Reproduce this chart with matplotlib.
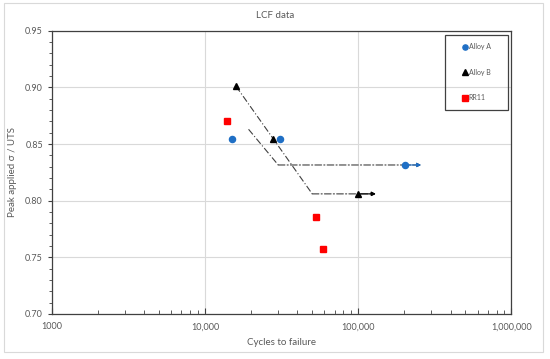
import matplotlib.pyplot as plt
from matplotlib.ticker import FixedLocator, FuncFormatter, LogLocator, MultipleLocator
from matplotlib.patches import Rectangle

plt.rcParams['font.family'] = ['Lato', 'DejaVu Sans']

# data
alloy_a_n = [14900, 31000, 202000]
alloy_a_s = [0.854, 0.854, 0.8315]
alloy_b_n = [15900, 27900, 100000]
alloy_b_s = [0.901, 0.854, 0.806]
rr11_n = [13800, 52800, 59000]
rr11_s = [0.870, 0.786, 0.757]

# trend lines (dash-dot) with run-out arrows
trend_a_n = [19200, 30000, 257000]
trend_a_s = [0.863, 0.8315, 0.8315]
trend_b_n = [15900, 50000, 130000]
trend_b_s = [0.901, 0.806, 0.806]

grey = '#595959'
blue = '#1F6FC5'
dashdot = (0, (6, 2, 1, 2))

fig = plt.figure(figsize=(5.5, 3.59), dpi=100)
# light outer border like the chart area in the original
fig.patches.append(Rectangle((4/550, 7/359), 539/550, 349/359, transform=fig.transFigure,
                             fill=False, edgecolor='#d9d9d9', linewidth=0.8))
ax = fig.add_axes([52/550, 45/359, 459.5/550, 283.3/359])

ax.plot(trend_a_n[:-1], trend_a_s[:-1], color='#404040', lw=0.8, ls=dashdot)
ax.plot(trend_b_n[:-1], trend_b_s[:-1], color='#404040', lw=0.8, ls=dashdot)
arrow_kw = dict(lw=0.8, mutation_scale=6, shrinkA=0, shrinkB=0, arrowstyle='-|>')
ax.annotate('', xy=(trend_a_n[-1], trend_a_s[-1]), xytext=(trend_a_n[-2], trend_a_s[-2]),
            arrowprops=dict(color='#404040', ls=dashdot, **arrow_kw))
ax.annotate('', xy=(trend_a_n[-1], trend_a_s[-1]), xytext=(alloy_a_n[-1], alloy_a_s[-1]),
            arrowprops=dict(color=blue, **arrow_kw))
ax.annotate('', xy=(trend_b_n[-1], trend_b_s[-1]), xytext=(trend_b_n[-2], trend_b_s[-2]),
            arrowprops=dict(color='#404040', ls=dashdot, **arrow_kw))
ax.annotate('', xy=(trend_b_n[-1], trend_b_s[-1]), xytext=(alloy_b_n[-1], alloy_b_s[-1]),
            arrowprops=dict(color='black', **arrow_kw))

ax.plot(alloy_a_n, alloy_a_s, 'o', color=blue, ms=4.4, ls='none', label='Alloy A', zorder=5)
ax.plot(alloy_b_n, alloy_b_s, '^', color='black', ms=4.6, ls='none', label='Alloy B', zorder=5)
ax.plot(rr11_n, rr11_s, 's', color='#FF0000', ms=4.6, ls='none', label='RR11', zorder=5)

ax.set_xscale('log')
ax.set_xlim(1000, 1e6)
ax.set_ylim(0.70, 0.95)
ax.yaxis.set_major_locator(MultipleLocator(0.05))
ax.yaxis.set_minor_locator(MultipleLocator(0.01))
ax.xaxis.set_major_locator(FixedLocator([1e3, 1e4, 1e5, 1e6]))
ax.xaxis.set_minor_locator(LogLocator(base=10, subs=range(2, 10)))
ax.xaxis.set_major_formatter(FuncFormatter(lambda v, p: '1000' if v < 5000 else f'{int(v):,}'))
ax.yaxis.set_major_formatter(FuncFormatter(lambda v, p: f'{v:.2f}'))
ax.xaxis.set_minor_formatter(FuncFormatter(lambda v, p: ''))

ax.grid(True, which='major', color='#d9d9d9', lw=0.8)
ax.set_axisbelow(True)
for s in ax.spines.values():
    s.set_color('#404040')
    s.set_linewidth(0.9)
ax.tick_params(axis='both', which='both', colors='#404040', labelcolor=grey, labelsize=6.5)
ax.tick_params(axis='x', which='major', direction='in', length=4, pad=6)
ax.tick_params(axis='x', which='minor', direction='in', length=3)
ax.tick_params(axis='y', which='major', direction='out', length=3)
ax.tick_params(axis='y', which='minor', direction='out', length=2)

fig.text(275/550, 1 - 15/359, 'LCF data', fontsize=7, color=grey, ha='center', va='center')
ax.set_xlabel('Cycles to failure', fontsize=7, color=grey, labelpad=5)
ax.set_ylabel('Peak applied σ / UTS', fontsize=7, color=grey, labelpad=6)

# legend box drawn by hand, entries centred in it
ax.add_patch(Rectangle((0.855, 0.72), 0.137, 0.265, transform=ax.transAxes, fill=False,
                       edgecolor='#404040', lw=0.9, zorder=6))
leg = ax.legend(loc='center', bbox_to_anchor=(0.924, 0.853), fontsize=5, frameon=False,
                labelspacing=2.65, handlelength=0.6, handletextpad=0.3, markerscale=0.85)
for t in leg.get_texts():
    t.set_color(grey)

fig.savefig('out.png', dpi=100)
